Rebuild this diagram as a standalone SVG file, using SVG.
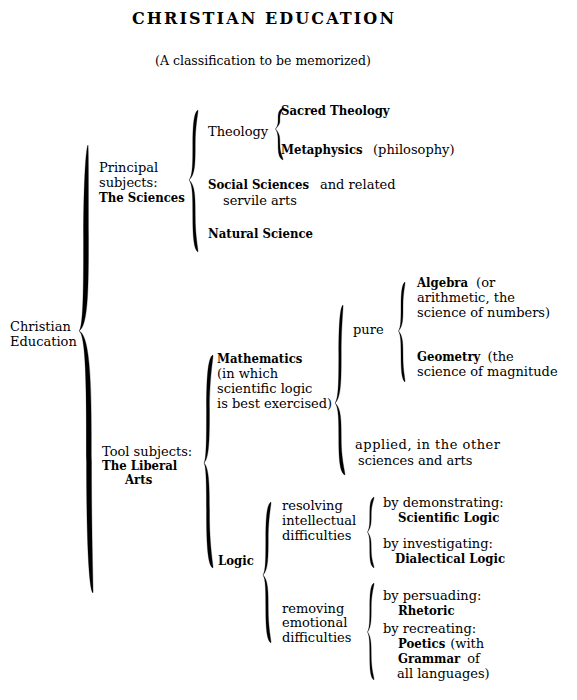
<svg xmlns="http://www.w3.org/2000/svg" width="577" height="700" viewBox="0 0 577 700">
<style>
text{font-family:"DejaVu Serif","Liberation Serif",serif;font-size:13px;fill:#000}
.b{font-family:"DejaVu Serif Condensed","DejaVu Serif","Liberation Serif",serif;font-weight:bold}
.title{font-size:16px;font-weight:bold}
.sub{font-size:12.5px}
.brace{fill:#000;stroke:#000;stroke-width:0.3}
</style>
<rect width="577" height="700" fill="#fff"/>
<g id="title"><text class="title" x="132" y="24" textLength="262" lengthAdjust="spacing">CHRISTIAN EDUCATION</text></g>
<g id="subtitle"><text class="sub" x="155" y="65">(A classification to be memorized)</text></g>

<g id="connectors">
<path class="brace" d="M 88,145 C 86,147 83.5,182 83.5,238 C 83.5,284.5 83.5,327 79,331 C 88.5,326 88.5,284.5 88.5,238 C 88.5,182 88.5,147 88,145 Z M 79,331 C 86.5,335 86.5,396.5 86.5,462 C 86.5,540.6 89,591 93,593 C 93.5,591 91.5,540.6 91.5,462 C 91.5,396.5 91.5,336 79,331 Z"/>
<path class="brace" d="M 198,110 C 194,112 192.75,124 192.75,145 C 192.75,162.5 192.75,176 189,180 C 195.25,175 195.25,162.5 195.25,145 C 195.25,124 198.5,112 198,110 Z M 189,180 C 192.75,184 192.75,198 192.75,216 C 192.75,237.6 194,250 198,252 C 198.5,250 195.25,237.6 195.25,216 C 195.25,198 195.25,185 189,180 Z"/>
<path class="brace" d="M 283,108 C 279,110 278.1,112.2 278.1,118.5 C 278.1,123.75 278.1,125 275.5,129 C 279.9,124 279.9,123.75 279.9,118.5 C 279.9,112.2 283.5,110 283,108 Z M 275.5,129 C 278.1,133 278.1,136.75 278.1,144.5 C 278.1,153.8 279,158 283,160 C 283.5,158 279.9,153.8 279.9,144.5 C 279.9,136.75 279.9,134 275.5,129 Z"/>
<path class="brace" d="M 213,355 C 208,357 206.5,376.6 206.5,409 C 206.5,436 206.5,459 204,463 C 209.5,458 209.5,436 209.5,409 C 209.5,376.6 213.5,357 213,355 Z M 204,463 C 206.5,467 206.5,489.25 206.5,515.5 C 206.5,547 208,566 213,568 C 213.5,566 209.5,547 209.5,515.5 C 209.5,489.25 209.5,468 204,463 Z"/>
<path class="brace" d="M 343,305 C 340,307 338.75,324.6 338.75,354 C 338.75,378.5 338.75,399 335,403 C 341.25,398 341.25,378.5 341.25,354 C 341.25,324.6 343.5,307 343,305 Z M 335,403 C 338.75,407 338.75,421 338.75,439 C 338.75,460.6 340,473 345,475 C 345.5,473 341.25,460.6 341.25,439 C 341.25,421 341.25,408 335,403 Z"/>
<path class="brace" d="M 405,282 C 402,284 401,291.8 401,306.5 C 401,318.75 401,327 398.5,331 C 403,326 403,318.75 403,306.5 C 403,291.8 405.5,284 405,282 Z M 398.5,331 C 401,335 401,343.75 401,356.5 C 401,371.8 402,380 405,382 C 405.5,380 403,371.8 403,356.5 C 403,343.75 403,336 398.5,331 Z"/>
<path class="brace" d="M 271,502 C 267,504 265.75,516.6 265.75,538.5 C 265.75,556.75 265.75,571 263,575 C 268.25,570 268.25,556.75 268.25,538.5 C 268.25,516.6 271.5,504 271,502 Z M 263,575 C 265.75,579 265.75,592 265.75,609 C 265.75,629.4 267,641 271,643 C 271.5,641 268.25,629.4 268.25,609 C 268.25,592 268.25,580 263,575 Z"/>
<path class="brace" d="M 374,497 C 370.5,499 369.75,504 369.75,514.5 C 369.75,523.25 369.75,528 367.5,532 C 371.25,527 371.25,523.25 371.25,514.5 C 371.25,504 374.5,499 374,497 Z M 367.5,532 C 369.75,536 369.75,541 369.75,550 C 369.75,560.8 370.5,566 374,568 C 374.5,566 371.25,560.8 371.25,550 C 371.25,541 371.25,537 367.5,532 Z"/>
<path class="brace" d="M 374,583 C 370.5,585 369.75,592.8 369.75,607.5 C 369.75,619.75 369.75,628 367.5,632 C 371.25,627 371.25,619.75 371.25,607.5 C 371.25,592.8 374.5,585 374,583 Z M 367.5,632 C 369.75,636 369.75,644 369.75,656 C 369.75,670.4 370.5,678 374,680 C 374.5,678 371.25,670.4 371.25,656 C 371.25,644 371.25,637 367.5,632 Z"/>
</g>

<g id="n-christian-education"><text x="10" y="331">Christian</text><text x="10" y="346">Education</text></g>
<g id="n-principal"><text x="99" y="172">Principal</text><text x="99" y="187">subjects:</text><text class="b" x="99" y="202">The Sciences</text></g>
<g id="n-theology"><text x="208" y="136">Theology</text></g>
<g id="n-sacred"><text class="b" x="281" y="115">Sacred Theology</text></g>
<g id="n-metaphysics"><text x="281" y="154"><tspan class="b">Metaphysics</tspan><tspan x="373">(philosophy)</tspan></text></g>
<g id="n-social"><text x="208" y="189"><tspan class="b">Social Sciences</tspan><tspan x="320">and related</tspan></text><text x="223" y="205">servile arts</text></g>
<g id="n-natural"><text class="b" x="208" y="238">Natural Science</text></g>
<g id="n-tool"><text x="102" y="456">Tool subjects:</text><text class="b" x="102" y="470">The Liberal</text><text class="b" x="125" y="484">Arts</text></g>
<g id="n-mathematics"><text class="b" x="217" y="363">Mathematics</text><text x="217" y="378">(in which</text><text x="217" y="393">scientific logic</text><text x="217" y="408">is best exercised)</text></g>
<g id="n-pure"><text x="353" y="334">pure</text></g>
<g id="n-algebra"><text x="417" y="287"><tspan class="b">Algebra</tspan><tspan dx="8">(or</tspan></text><text x="417" y="302">arithmetic, the</text><text x="417" y="317">science of numbers)</text></g>
<g id="n-geometry"><text x="417" y="361"><tspan class="b">Geometry</tspan><tspan dx="7">(the</tspan></text><text x="417" y="376">science of magnitude</text></g>
<g id="n-applied"><text x="355" y="449" textLength="145" lengthAdjust="spacing">applied, in the other</text><text x="358" y="465">sciences and arts</text></g>
<g id="n-logic"><text class="b" x="218" y="565">Logic</text></g>
<g id="n-resolving"><text x="282" y="510">resolving</text><text x="282" y="525">intellectual</text><text x="282" y="540">difficulties</text></g>
<g id="n-demonstrating"><text x="383" y="507">by demonstrating:</text><text class="b" x="398" y="522">Scientific Logic</text></g>
<g id="n-investigating"><text x="383" y="548">by investigating:</text><text class="b" x="395" y="563">Dialectical Logic</text></g>
<g id="n-removing"><text x="282" y="613">removing</text><text x="282" y="627">emotional</text><text x="282" y="642">difficulties</text></g>
<g id="n-persuading"><text x="383" y="600">by persuading:</text><text class="b" x="398" y="615">Rhetoric</text></g>
<g id="n-recreating"><text x="383" y="633">by recreating:</text><text x="398" y="648"><tspan class="b">Poetics</tspan><tspan dx="5">(with</tspan></text><text x="398" y="663"><tspan class="b">Grammar</tspan><tspan dx="7">of</tspan></text><text x="397" y="678">all languages)</text></g>
</svg>
